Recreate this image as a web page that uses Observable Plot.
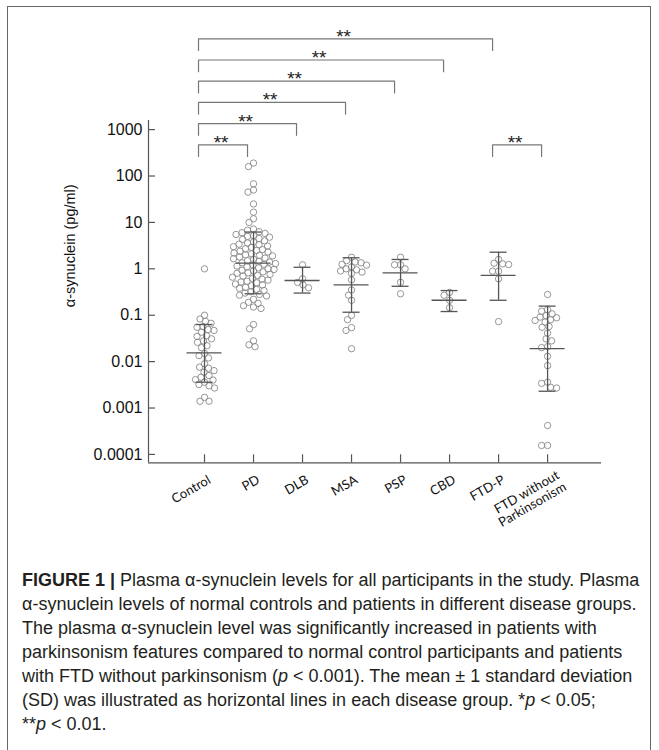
<!DOCTYPE html>
<html><head><meta charset="utf-8">
<script src="https://cdn.jsdelivr.net/npm/d3@7"></script>
<script src="https://cdn.jsdelivr.net/npm/@observablehq/plot@0.6"></script>
<style>
body{margin:0;background:#fff;width:659px;height:750px;overflow:hidden;position:relative;font-family:"Liberation Sans",Arial,sans-serif}
#frame{position:absolute;left:7px;top:6px;width:644px;height:780px;border:1px solid #666;box-sizing:border-box}
#chart{position:absolute;left:0;top:0}
#caption{position:absolute;left:22px;top:568px;font-size:18px;line-height:24px;color:#231f20;white-space:nowrap}
</style></head><body>
<div id="frame"></div><div id="chart"></div>
<div id="caption"><b>FIGURE 1 |</b> Plasma α-synuclein levels for all participants in the study. Plasma<br>α-synuclein levels of normal controls and patients in different disease groups.<br>The plasma α-synuclein level was significantly increased in patients with<br>parkinsonism features compared to normal control participants and patients<br>with FTD without parkinsonism (<i>p</i> &lt; 0.001). The mean ± 1 standard deviation<br>(SD) was illustrated as horizontal lines in each disease group. *<i>p</i> &lt; 0.05;<br>**<i>p</i> &lt; 0.01.</div>
<script>
// ---- data ----
const groups = ["Control","PD","DLB","MSA","PSP","CBD","FTD-P","FTD without Parkinsonism"];
const groupLabels = ["Control","PD","DLB","MSA","PSP","CBD","FTD-P","FTD without\nParkinsonism"];
const control = [1.0,0.10,0.083,0.074,0.067,0.057,0.055,0.049,0.047,0.043,0.036,0.035,0.031,0.028,0.026,0.022,0.020,0.015,0.0135,0.012,0.0090,0.0076,0.0072,0.0064,0.0059,0.0050,0.0046,0.0041,0.0040,0.0036,0.0032,0.0030,0.0027,0.0017,0.0014,0.0014];
const pd = [190,160,68,50,45,25,16.6,12,10,
  7.2,6.8,6.3,6.0,5.8,5.5,5.2,5.0,4.8,4.5,4.3,4.0,3.8,3.6,3.4,3.3,3.1,3.0,2.9,2.7,2.6,2.5,2.4,2.3,2.2,2.1,2.0,1.95,1.9,1.8,1.7,1.65,1.6,1.5,1.45,1.4,1.35,1.3,1.25,1.2,1.15,1.1,1.05,1.0,0.97,0.93,0.9,0.86,0.82,0.8,0.76,0.72,0.7,0.66,0.62,0.6,0.57,0.54,0.52,0.5,0.47,0.45,0.43,0.4,0.38,0.36,0.34,0.32,0.3,0.28,0.27,0.26,
  0.22,0.19,0.18,0.16,0.15,0.14,0.063,0.051,0.028,0.023,0.021];
const dlb = [1.22,0.61,0.51,0.45,0.39];
const msa = [1.78,1.5,1.4,1.35,1.25,1.2,1.1,1.0,0.95,0.9,0.85,0.8,0.58,0.35,0.27,0.21,0.099,0.080,0.054,0.047,0.019];
const psp = [1.78,1.22,1.22,1.0,0.51,0.29];
const cbd = [0.31,0.27,0.21,0.145];
const ftdp = [1.59,1.24,1.28,1.32,0.89,0.89,0.61,0.073];
const ftdNoP = [0.28,0.131,0.122,0.107,0.098,0.091,0.088,0.080,0.077,0.071,0.057,0.055,0.041,0.031,0.028,0.021,0.020,0.013,0.0082,0.0036,0.0034,0.0028,0.0027,0.00042,0.000156,0.000156];
const seriesValues = [control,pd,dlb,msa,psp,cbd,ftdp,ftdNoP];
const means  = [0.0155,1.32,0.56,0.45,0.82,0.21,0.72,0.019];
const sdHigh = [0.063,6.2,1.08,1.73,1.59,0.34,2.28,0.157];
const sdLow  = [0.0036,0.29,0.30,0.116,0.42,0.12,0.21,0.0023];
const yTicks = [0.0001,0.001,0.01,0.1,1,10,100,1000];
const yTickLabels = ["0.0001","0.001","0.01","0.1","1","10","100","1000"];
const compFrom = ["Control","Control","Control","Control","Control","Control","FTD-P"];
const compTo   = ["PD","DLB","MSA","PSP","CBD","FTD-P","FTD without Parkinsonism"];
const compLevel = [0,1,2,3,4,5,0];
const compLabel = ["**","**","**","**","**","**","**"];
const yLabel = "α-synuclein (pg/ml)";

// ---- layout ----
const W = 659, H = 580;
const mL = 148, mR = 58, mT = 36.3, mB = 117.7;
const yMin = 6.6e-5, yMax = 1e5;
const xMin = -56/49, xMax = 8.1;
const decade = (H - mB - mT) / (Math.log10(yMax) - Math.log10(yMin));
const yPx = v => (H - mB) - (Math.log10(v) - Math.log10(yMin)) * decade;
const yVal = px => Math.pow(10, Math.log10(yMin) + ((H - mB) - px) / decade);
const unit = (W - mL - mR) / (xMax - xMin);
const gIndex = g => groups.indexOf(g);

function swarm(vals, gi) {
  const pts = vals.map(v => ({v, py: yPx(v), ox: 0}));
  const order = d3.range(pts.length).sort((a, b) => pts[a].py - pts[b].py);
  const placed = [];
  const D = 5.8;
  for (const i of order) {
    const p = pts[i];
    for (let k = 0; k < 400; k++) {
      const off = (k % 2 ? -1 : 1) * Math.ceil(k / 2) * 0.5;
      if (placed.every(q => (q.ox - off) ** 2 + (q.py - p.py) ** 2 >= D * D)) { p.ox = off; break; }
    }
    placed.push(p);
  }
  return pts.map(p => ({group: groups[gi], v: p.v, xi: gi + p.ox / unit}));
}
const points = seriesValues.flatMap((vals, gi) => swarm(vals, gi));
const stats = groups.map((g, i) => ({i, mean: means[i], hi: sdHigh[i], lo: sdLow[i]}));

// brackets
const baseY = 144.3, stepY = 21.2, legY = 11.7;
const bracketPts = [];
const bracketText = [];
compFrom.forEach((f, k) => {
  const a = gIndex(f), b = gIndex(compTo[k]);
  const ly = baseY - stepY * compLevel[k];
  const top = yVal(ly), bot = yVal(ly + legY);
  bracketPts.push({id: k, x: a, y: bot}, {id: k, x: a, y: top}, {id: k, x: b, y: top}, {id: k, x: b, y: bot});
  bracketText.push({x: (a + b) / 2, y: top, t: compLabel[k]});
});

const xTickTop = yVal(yPx(yMin) - 8);
const idx = d3.range(groups.length);

const chart = Plot.plot({
  width: W, height: H,
  marginLeft: mL, marginRight: mR, marginTop: mT, marginBottom: mB,
  x: {type: "linear", domain: [xMin, xMax], axis: null},
  y: {type: "log", domain: [yMin, yMax], axis: null},
  style: {background: "transparent", overflow: "visible"},
  marks: [
    // axes lines
    Plot.ruleX([xMin], {y1: yMin, y2: yVal(120), stroke: "#555", strokeWidth: 1.2}),
    Plot.ruleY([yMin], {stroke: "#555", strokeWidth: 1.2}),
    Plot.ruleY(yTicks, {y: d => d, x1: xMin, x2: xMin + 7 / unit, stroke: "#555", strokeWidth: 1.2}),
    Plot.text(yTicks, {x: xMin, y: d => d, text: (d, i) => yTickLabels[i], textAnchor: "end", dx: -6, fontSize: 16, fontFamily: "Liberation Sans", fill: "#111"}),
    Plot.ruleX(idx, {x: d => d, y1: yMin, y2: xTickTop, stroke: "#555", strokeWidth: 1.2}),
    Plot.text(idx.slice(0, 7), {x: d => d, y: yMin, text: d => groupLabels[d], rotate: -30, textAnchor: "end", dx: 5, dy: 16, fontSize: 13, fontFamily: "Lato", fill: "#111"}),
    Plot.text([7], {x: d => d, y: yMin, text: d => groupLabels[d], rotate: -30, textAnchor: "end", dx: 14, dy: 17, fontSize: 13, fontFamily: "Lato", fill: "#111", lineHeight: 1.05}),
    Plot.text([yLabel], {frameAnchor: "left", textAnchor: "middle", dx: -78, dy: -4, rotate: -90, fontSize: 14.5, fontFamily: "Liberation Sans", fill: "#111"}),
    // data
    Plot.dot(points, {x: "xi", y: "v", r: 3.2, stroke: "#8a8a8a", strokeWidth: 0.9, fill: "none"}),
    Plot.ruleX(stats, {x: "i", y1: "lo", y2: "hi", stroke: "#555", strokeWidth: 1.3}),
    Plot.ruleY(stats, {y: "mean", x1: d => d.i - 0.357, x2: d => d.i + 0.357, stroke: "#555", strokeWidth: 1.3}),
    Plot.ruleY(stats, {y: "hi", x1: d => d.i - 0.173, x2: d => d.i + 0.173, stroke: "#555", strokeWidth: 1.3}),
    Plot.ruleY(stats, {y: "lo", x1: d => d.i - 0.173, x2: d => d.i + 0.173, stroke: "#555", strokeWidth: 1.3}),
    // significance brackets
    Plot.line(bracketPts, {x: "x", y: "y", z: "id", stroke: "#777", strokeWidth: 1.2, dx: -6, curve: "linear"}),
    Plot.text(bracketText, {x: "x", y: "y", text: "t", dx: -8, dy: -2, fontSize: 19, fontFamily: "Liberation Sans", fill: "#222"})
  ]
});
document.getElementById("chart").appendChild(chart);
</script>
</body></html>
